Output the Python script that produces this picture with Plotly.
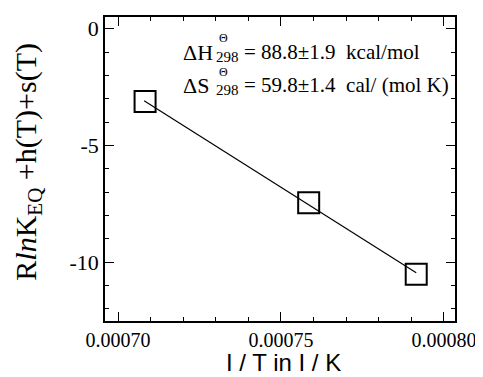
import plotly.graph_objects as go

# Data
inv_T = [0.0007083, 0.0007585, 0.0007915]
y_vals = [-3.12, -7.46, -10.52]
fit_x = [0.000708, 0.0007915]
fit_y = [-3.09, -10.45]

x_tickvals = [0.00070, 0.00075, 0.00080]
x_ticktext = ["0.00070", "0.00075", "0.00080"]
y_tickvals = [0, -5, -10]
y_ticktext = ["0", "-5", "-10"]

# page has an 8px body margin: figure is drawn from (8, 8)
OFF = 8
W, H = 483 - OFF, 377 - OFF
PL, PT, PWID, PHGT = 105, 15, 353, 306  # plot area in page pixels
L, T = PL - OFF, PT - OFF
R = W - L - PWID
B = H - T - PHGT

def px(x):
    return (x - PL) / PWID

def py(y):
    return (PT + PHGT - y) / PHGT

fig = go.Figure()
fig.add_trace(go.Scatter(x=fit_x, y=fit_y, mode="lines",
                         line=dict(color="black", width=1.2), showlegend=False))
fig.add_trace(go.Scatter(x=inv_T, y=y_vals, mode="markers",
                         marker=dict(symbol="square-open", size=21,
                                     color="black", line=dict(color="black", width=2)),
                         showlegend=False))

serif = "Liberation Serif"
ann = []
def add(text, x, y, size, family=serif, xanchor="left", angle=0):
    ann.append(dict(text=text, x=px(x), y=py(y), xref="paper", yref="paper",
                    xanchor=xanchor, yanchor="middle", showarrow=False,
                    textangle=angle,
                    font=dict(family=family, size=size, color="black")))

add("ΔH", 182, 51, 22)
add("Θ", 218, 36, 12)
add("298", 215, 55, 15)
add("=\u00a088.8±1.9\u00a0\u00a0kcal/mol", 243, 50, 21)
add("ΔS", 182, 84, 22)
add("Θ", 218, 70, 12)
add("298", 215, 88, 15)
add("=\u00a059.8±1.4\u00a0\u00a0cal/\u00a0(mol\u00a0K)", 243, 83, 21)

# axis titles
add("R<i>ln</i>K<sub>EQ</sub> +h(T)+s(T)", 27, 161, 30, xanchor="center", angle=-90)
add("I / T in I / K", 285, 363, 24, family="Liberation Sans", xanchor="center")

fig.update_layout(
    width=W, height=H,
    margin=dict(l=L, r=R, t=T, b=B),
    paper_bgcolor="white", plot_bgcolor="white",
    annotations=ann,
    xaxis=dict(
        range=[0.000696, 0.0008034],
        tickmode="array", tickvals=x_tickvals, ticktext=x_ticktext,
        ticks="inside", ticklen=9, tickwidth=1.2, tickcolor="black",
        minor=dict(tickmode="linear", tick0=0.0007, dtick=0.00001,
                   ticks="inside", ticklen=4, tickwidth=1, tickcolor="black"),
        showline=True, linecolor="black", linewidth=1.5, mirror="ticks",
        showgrid=False, zeroline=False,
        tickfont=dict(family=serif, size=20, color="black"),
    ),
    yaxis=dict(
        range=[-12.52, 0.5],
        tickmode="array", tickvals=y_tickvals, ticktext=y_ticktext,
        ticks="inside", ticklen=9, tickwidth=1.2, tickcolor="black",
        minor=dict(tickmode="linear", tick0=0, dtick=1,
                   ticks="inside", ticklen=4, tickwidth=1, tickcolor="black"),
        showline=True, linecolor="black", linewidth=1.5, mirror="ticks",
        showgrid=False, zeroline=False,
        tickfont=dict(family=serif, size=22, color="black"),
    ),
)

fig.write_html("out.html")
